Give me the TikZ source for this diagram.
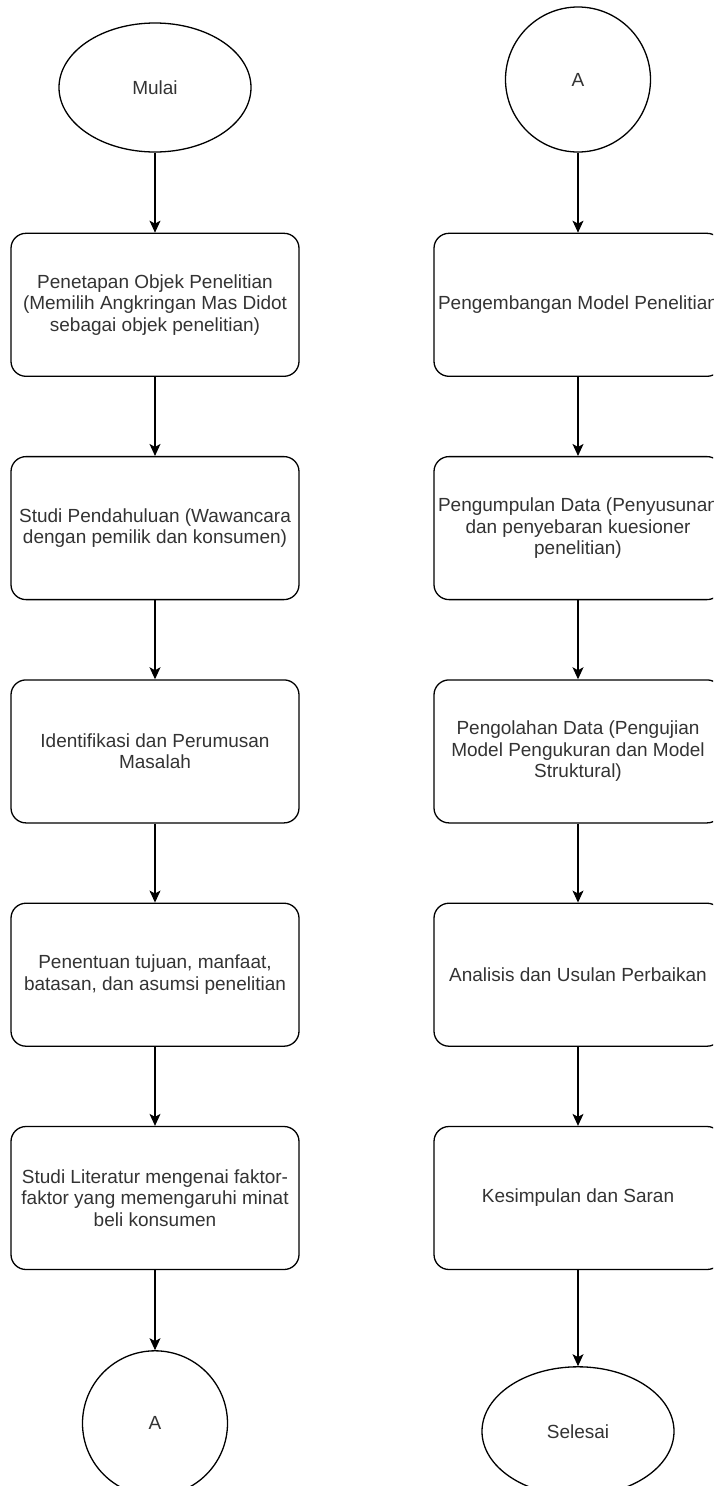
\documentclass[tikz,border=0pt]{standalone}
\usepackage{fontspec}
\setmainfont{Liberation Sans}
\usetikzlibrary{positioning,shapes.geometric,arrows.meta}

\begin{document}
\begin{tikzpicture}[
			x=1pt, y=-1pt,
			every node/.style={font=\fontsize{19}{21.5}\selectfont, text=black!80},
			stepbox/.style={rectangle, rounded corners=15pt, draw=black, line width=1.3pt, minimum width=288pt, minimum height=143pt, align=center, inner sep=0pt},
			endnode/.style={ellipse, draw=black, line width=1.3pt, minimum width=192pt, minimum height=129pt, inner sep=0pt},
			linknode/.style={circle, draw=black, line width=1.3pt, minimum size=145pt, inner sep=0pt},
			flow/.style={-{Stealth[length=12pt, width=11pt, inset=3pt]}, line width=1.1pt},
		]
		
			\useasboundingbox (0,0) rectangle (713,1486);
			\clip (0,0) rectangle (713,1486);
		
			%Nodes
			\node[endnode]	(mulai)	at (155,87.5)			{Mulai};
			\node[stepbox]	(l1)	[below=80pt of mulai]	{Penetapan Objek Penelitian\\(Memilih Angkringan Mas Didot\\sebagai objek penelitian)};
			\node[stepbox]	(l2)	[below=79pt of l1]		{Studi Pendahuluan (Wawancara\\dengan pemilik dan konsumen)};
			\node[stepbox]	(l3)	[below=79pt of l2]		{Identifikasi dan Perumusan\\Masalah};
			\node[stepbox]	(l4)	[below=79pt of l3]		{Penentuan tujuan, manfaat,\\batasan, dan asumsi penelitian};
			\node[stepbox]	(l5)	[below=79pt of l4]		{Studi Literatur mengenai faktor-\\faktor yang memengaruhi minat\\beli konsumen};
			\node[linknode]	(aout)	[below=80pt of l5]		{A};
		
			\node[linknode]	(ain)	at (578,79.5)			{A};
			\node[stepbox]	(r1)	[below=80pt of ain]		{Pengembangan Model Penelitian};
			\node[stepbox]	(r2)	[below=79pt of r1]		{Pengumpulan Data (Penyusunan\\dan penyebaran kuesioner\\penelitian)};
			\node[stepbox]	(r3)	[below=79pt of r2]		{Pengolahan Data (Pengujian\\Model Pengukuran dan Model\\Struktural)};
			\node[stepbox]	(r4)	[below=79pt of r3]		{Analisis dan Usulan Perbaikan};
			\node[stepbox]	(r5)	[below=79pt of r4]		{Kesimpulan dan Saran};
			\node[endnode]	(selesai)	[below=96pt of r5]	{Selesai};
		
			%Lines
			\draw[flow]	(mulai) -- (l1);
			\draw[flow]	(l1) -- (l2);
			\draw[flow]	(l2) -- (l3);
			\draw[flow]	(l3) -- (l4);
			\draw[flow]	(l4) -- (l5);
			\draw[flow]	(l5) -- (aout);
			\draw[flow]	(ain) -- (r1);
			\draw[flow]	(r1) -- (r2);
			\draw[flow]	(r2) -- (r3);
			\draw[flow]	(r3) -- (r4);
			\draw[flow]	(r4) -- (r5);
			\draw[flow]	(r5) -- (selesai);
		
		\end{tikzpicture}
\end{document}
